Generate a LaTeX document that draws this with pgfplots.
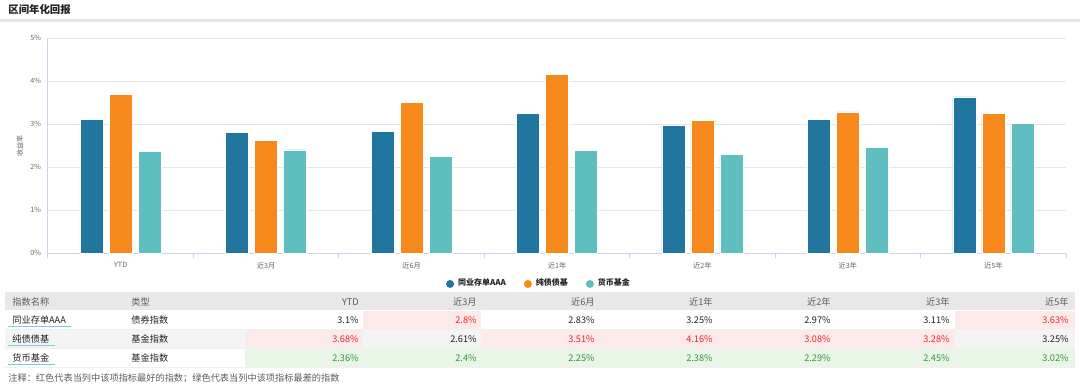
\documentclass[border=0pt]{standalone}
\usepackage{fontspec}
\setmainfont{Noto Sans CJK SC}
\usepackage{pgfplots}
\pgfplotsset{compat=1.18}
\definecolor{cblue}{HTML}{21769F}
\definecolor{corange}{HTML}{F7891C}
\definecolor{cteal}{HTML}{5FBEBF}
\definecolor{gridc}{HTML}{E6E6E6}
\definecolor{axc}{HTML}{CCD6EB}
\definecolor{tickc}{HTML}{666666}
\definecolor{hdr}{HTML}{E8E8E8}
\definecolor{pinkbg}{HTML}{FCE9E9}
\definecolor{greenbg}{HTML}{E9F5E7}
\definecolor{redt}{HTML}{E5262C}
\definecolor{greent}{HTML}{2E9A37}
\definecolor{rowg}{HTML}{F4F4F4}
\definecolor{uline}{HTML}{7CCFD6}
\definecolor{txt}{HTML}{222222}
\newcommand\fs[1]{\fontsize{#1}{#1}\selectfont}
\begin{document}
\begin{tikzpicture}
\begin{scope}[x=0.5pt,y=-0.5pt]
\path[use as bounding box] (0,0) rectangle (1080,385);
\fill[gridc] (0,19) rectangle (1080,22);
\node[anchor=west, inner sep=0, font=\fs{5.2}\bfseries, text=txt] at (8,9.5) {区间年化回报};
\node[rotate=90, inner sep=0, font=\fs{3.5}, text=tickc] at (20,146) {收益率};
% table backgrounds
\fill[hdr] (5,292) rectangle (1075,310);
\fill[rowg] (5,330) rectangle (1075,348);
\fill[pinkbg] (363,311) rectangle (481,329);
\fill[pinkbg] (955,311) rectangle (1075,329);
\fill[pinkbg] (245,330) rectangle (363,348);
\fill[pinkbg] (481,330) rectangle (955,348);
\fill[greenbg] (245,349) rectangle (1075,367);
\draw[gray!12, line width=0.4pt] (5,329.5) -- (1075,329.5);
\draw[gray!12, line width=0.4pt] (5,348.5) -- (1075,348.5);
\draw[gray!12, line width=0.4pt] (5,367.5) -- (1075,367.5);
% underlines
\draw[uline, line width=0.8pt] (8,326.5) -- (71,326.5);
\draw[uline, line width=0.8pt] (8,345.5) -- (55,345.5);
\draw[uline, line width=0.8pt] (8,364.5) -- (55,364.5);
% header
\begin{scope}[every node/.style={inner sep=0, font=\fs{4.6}, text=tickc!90!black}]
\node[anchor=mid west] at (12,300) {指数名称};
\node[anchor=mid west] at (131,300) {类型};
\node[anchor=mid east] at (359,300) {YTD};
\node[anchor=mid east] at (477,300) {近3月};
\node[anchor=mid east] at (595,300) {近6月};
\node[anchor=mid east] at (713,300) {近1年};
\node[anchor=mid east] at (831,300) {近2年};
\node[anchor=mid east] at (950,300) {近3年};
\node[anchor=mid east] at (1069,300) {近5年};
\end{scope}
\begin{scope}[every node/.style={inner sep=0, font=\fs{4.6}, text=txt}]
\node[anchor=mid west] at (12,318.5) {同业存单AAA};
\node[anchor=mid west] at (131,318.5) {债券指数};
\node[anchor=mid east] at (359,318.5) {3.1\%};
\node[anchor=mid east, text=redt] at (477,318.5) {2.8\%};
\node[anchor=mid east] at (595,318.5) {2.83\%};
\node[anchor=mid east] at (713,318.5) {3.25\%};
\node[anchor=mid east] at (831,318.5) {2.97\%};
\node[anchor=mid east] at (950,318.5) {3.11\%};
\node[anchor=mid east, text=redt] at (1069,318.5) {3.63\%};
\node[anchor=mid west] at (12,337.5) {纯债债基};
\node[anchor=mid west] at (131,337.5) {基金指数};
\node[anchor=mid east, text=redt] at (359,337.5) {3.68\%};
\node[anchor=mid east] at (477,337.5) {2.61\%};
\node[anchor=mid east, text=redt] at (595,337.5) {3.51\%};
\node[anchor=mid east, text=redt] at (713,337.5) {4.16\%};
\node[anchor=mid east, text=redt] at (831,337.5) {3.08\%};
\node[anchor=mid east, text=redt] at (950,337.5) {3.28\%};
\node[anchor=mid east] at (1069,337.5) {3.25\%};
\node[anchor=mid west] at (12,356.5) {货币基金};
\node[anchor=mid west] at (131,356.5) {基金指数};
\node[anchor=mid east, text=greent] at (359,356.5) {2.36\%};
\node[anchor=mid east, text=greent] at (477,356.5) {2.4\%};
\node[anchor=mid east, text=greent] at (595,356.5) {2.25\%};
\node[anchor=mid east, text=greent] at (713,356.5) {2.38\%};
\node[anchor=mid east, text=greent] at (831,356.5) {2.29\%};
\node[anchor=mid east, text=greent] at (950,356.5) {2.45\%};
\node[anchor=mid east, text=greent] at (1069,356.5) {3.02\%};
\end{scope}
\node[anchor=mid west, inner sep=0, font=\fs{4.6}, text=tickc!90!black] at (8,376.5) {注释：红色代表当列中该项指标最好的指数；绿色代表当列中该项指标最差的指数};
\end{scope}
\begin{axis}[
  at={(24pt,-126.5pt)}, anchor=south west,
  scale only axis, width=509pt, height=107.5pt,
  ybar=3pt, bar width=11.5pt,
  xmin=-0.5, xmax=6.5, ymin=0, ymax=5,
  xtick={0,...,6},
  xticklabels={YTD,近3月,近6月,近1年,近2年,近3年,近5年},
  ytick={0,...,5},
  yticklabel={\pgfmathprintnumber{\tick}\%},
  /pgf/number format/assume math mode=true,
  ymajorgrids, grid style={gridc, line width=0.5pt},
  axis x line*=bottom, axis y line*=left,
  axis line style={axc, line width=0.5pt, -},
  major tick length=0pt,
  extra x ticks={-0.5,0.5,1.5,2.5,3.5,4.5,5.5,6.5},
  extra x tick labels={},
  extra x tick style={major tick length=2.5pt, tick align=outside, tick style={axc, line width=0.5pt}},
  tick label style={font=\fs{3.6}, text=tickc},
  xticklabel style={yshift=-1pt},
  legend style={at={(0.4833,-0.144)}, anchor=center, draw=none, fill=none,
    font=\fs{4}\bfseries, text=txt, legend columns=3,
    /tikz/every even column/.append style={column sep=7pt}},
  legend image code/.code={\fill[#1, draw=none] (0.1em,0) circle (2pt);},
]
\addplot[fill=cblue, draw=white, line width=0.3pt] coordinates {(0,3.1) (1,2.8) (2,2.83) (3,3.25) (4,2.97) (5,3.11) (6,3.63)};
\addplot[fill=corange, draw=white, line width=0.3pt] coordinates {(0,3.68) (1,2.61) (2,3.51) (3,4.16) (4,3.08) (5,3.28) (6,3.25)};
\addplot[fill=cteal, draw=white, line width=0.3pt] coordinates {(0,2.36) (1,2.4) (2,2.25) (3,2.38) (4,2.29) (5,2.45) (6,3.02)};
\legend{同业存单AAA,纯债债基,货币基金}
\end{axis}
\end{tikzpicture}
\end{document}
